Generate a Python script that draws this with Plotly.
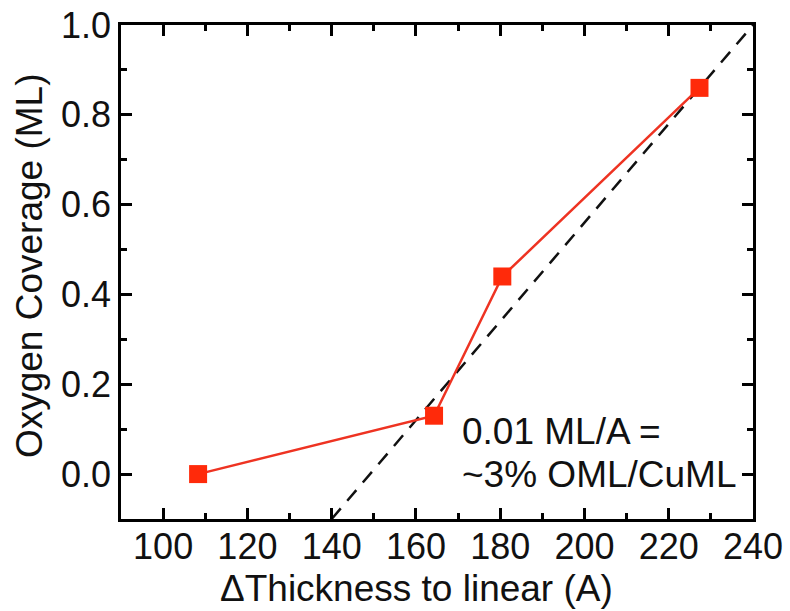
import plotly.graph_objects as go

thickness = [108.3, 164.3, 180.5, 227.3]
coverage = [0.0, 0.13, 0.44, 0.86]
fit_x = [140, 240]
fit_y = [-0.1, 1.0]
x_ticks = [100, 120, 140, 160, 180, 200, 220, 240]
y_ticks = [0.0, 0.2, 0.4, 0.6, 0.8, 1.0]
note_lines = ["0.01 ML/A =", "~3% OML/CuML"]
x_title = "ΔThickness to linear (A)"
y_title = "Oxygen Coverage (ML)"

font_family = "Liberation Sans, Arial, sans-serif"
tick_size = 36
title_size = 37

fig = go.Figure()
fig.add_trace(go.Scatter(x=fit_x, y=fit_y, mode="lines",
                         line=dict(color="#111111", width=2.5, dash="14px,10px"),
                         showlegend=False, hoverinfo="skip"))
fig.add_trace(go.Scatter(x=thickness, y=coverage, mode="lines+markers",
                         line=dict(color="#ee3322", width=2.5),
                         marker=dict(symbol="square", size=18, color="#ff2a0a"),
                         showlegend=False))

# note text, two lines
fig.add_annotation(x=170.5, y=0.094, xref="x", yref="y", text=note_lines[0],
                   showarrow=False, xanchor="left", yanchor="middle",
                   font=dict(size=title_size, color="#111111", family=font_family))
fig.add_annotation(x=170.5, y=-0.002, xref="x", yref="y", text=note_lines[1],
                   showarrow=False, xanchor="left", yanchor="middle",
                   font=dict(size=title_size, color="#111111", family=font_family))

# axis titles
fig.add_annotation(x=0.467, y=-0.14, xref="paper", yref="paper", text=x_title,
                   showarrow=False, xanchor="center", yanchor="middle",
                   font=dict(size=title_size, color="#111111", family=font_family))
fig.add_annotation(x=-0.1456, y=0.514, xref="paper", yref="paper", text=y_title,
                   showarrow=False, xanchor="center", yanchor="middle", textangle=-90,
                   font=dict(size=title_size, color="#111111", family=font_family))

axis_common = dict(showline=True, linecolor="black", linewidth=2.5, mirror="ticks",
                   ticks="inside", ticklen=11, tickwidth=2.5, tickcolor="black",
                   showgrid=False, zeroline=False, ticklabeloverflow="allow",
                   automargin=False,
                   tickfont=dict(size=tick_size, color="#111111", family=font_family))

fig.update_xaxes(range=[90, 240], tickvals=x_ticks,
                 ticktext=[str(v) for v in x_ticks], ticklabelstandoff=-6,
                 minor=dict(ticks="inside", ticklen=6, tickwidth=2.5, tickcolor="black", dtick=10, tick0=0),
                 **axis_common)
fig.update_yaxes(range=[-0.1, 1.0], tickvals=y_ticks,
                 ticktext=[f"{v:.1f}" for v in y_ticks], ticklabelstandoff=0,
                 minor=dict(ticks="inside", ticklen=6, tickwidth=2.5, tickcolor="black", dtick=0.1, tick0=0),
                 **axis_common)

fig.update_layout(width=790, height=611, plot_bgcolor="white", paper_bgcolor="white",
                  margin=dict(l=121, r=37, t=25, b=92, autoexpand=False))

fig.write_html("out.html", config={"displayModeBar": False},
               post_script="document.body.style.margin='0';")
